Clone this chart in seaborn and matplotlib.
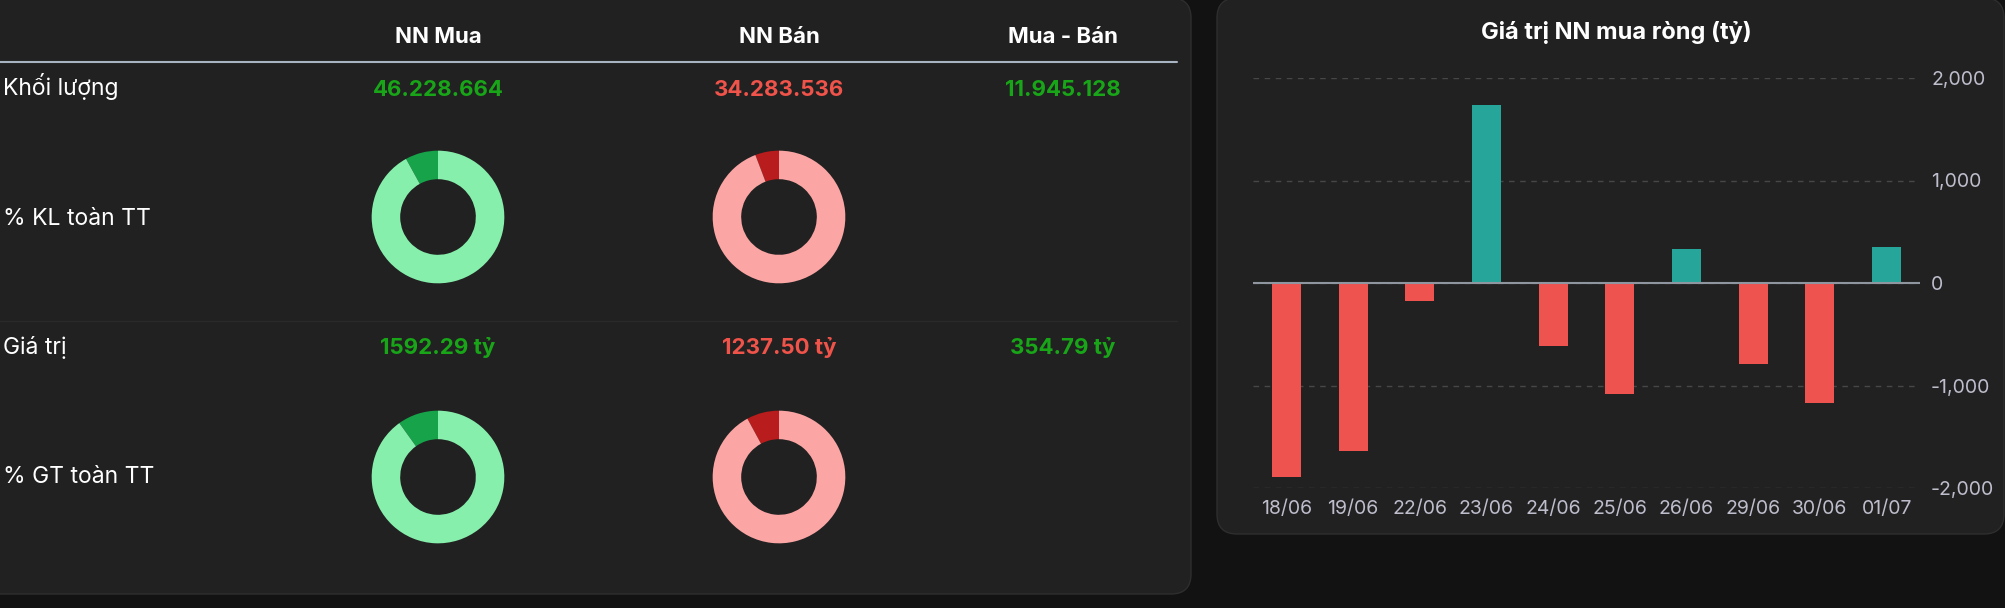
import numpy as np
import pandas as pd
import matplotlib
matplotlib.use("Agg")
import matplotlib.pyplot as plt
import seaborn as sns
from matplotlib.patches import FancyBboxPatch

# ----------------------------------------------------
# Data
# ----------------------------------------------------

dates = ["18/06", "19/06", "22/06", "23/06", "24/06",
         "25/06", "26/06", "29/06", "30/06", "01/07"]
net_values = [-1894, -1636, -178, 1739, -614, -1080, 330, -795, -1174, 354.79]

y_ticks = [-2000, -1000, 0, 1000, 2000]
y_tick_labels = ["-2,000", "-1,000", "0", "1,000", "2,000"]

col_headers = ["NN Mua", "NN Bán", "Mua - Bán"]
row_labels = ["Khối lượng", "% KL toàn TT", "Giá trị", "% GT toàn TT"]
volume_text = ["46.228.664", "34.283.536", "11.945.128"]
value_text = ["1592.29 tỷ", "1237.50 tỷ", "354.79 tỷ"]

# share of whole market (%): [NN Mua, NN Bán]
kl_share = [8.0, 5.8]
gt_share = [9.9, 7.9]

# ----------------------------------------------------
# Colours
# ----------------------------------------------------

BG = "#121212"
PANEL = "#212121"
GREEN_TXT = "#18a618"
RED_TXT = "#f0534a"
TEAL = "#26a69a"
RED_BAR = "#ef5350"
TICK = "#bdbdcc"
donut_buy = ["#16a34a", "#86efac"]
donut_sell = ["#b91c1c", "#fca5a5"]
value_colors = [GREEN_TXT, RED_TXT, GREEN_TXT]

sns.set_style("dark")
plt.rcParams["font.family"] = ["Inter", "DejaVu Sans"]

W, H = 2006, 608
fig = plt.figure(figsize=(W / 100, H / 100), dpi=100)
fig.patch.set_facecolor(BG)

# background axes in pixel coordinates
bg = fig.add_axes([0, 0, 1, 1])
bg.set_xlim(0, W)
bg.set_ylim(H, 0)
bg.axis("off")

for x0, y0, x1, y1 in [(-30, -2, 1191, 594), (1217, -2, 2004, 534)]:
    bg.add_patch(FancyBboxPatch(
        (x0, y0), x1 - x0, y1 - y0,
        boxstyle="round,pad=0,rounding_size=20",
        facecolor=PANEL, edgecolor="#2e2e2e", linewidth=1
    ))

# ----------------------------------------------------
# Left table
# ----------------------------------------------------

col_x = [438, 779, 1063]

for x, t in zip(col_x, col_headers):
    bg.text(x, 43, t, ha="center", va="baseline", fontsize=16,
            weight="bold", color="white")

bg.plot([0, 1177], [62, 62], color="#a9b4c2", lw=1.5)
bg.plot([0, 1177], [321, 321], color="#2a2a2a", lw=1)

for y, t in zip([95, 225, 354, 483], row_labels):
    bg.text(3, y, t, ha="left", va="baseline", fontsize=16.5, color="white")

for x, t, c in zip(col_x, volume_text, value_colors):
    bg.text(x, 96, t, ha="center", va="baseline", fontsize=16,
            weight="bold", color=c)

for x, t, c in zip(col_x, value_text, value_colors):
    bg.text(x, 354, t, ha="center", va="baseline", fontsize=16,
            weight="bold", color=c)


def donut(cx, cy, share, colors):
    r = 67
    ax = fig.add_axes([(cx - r) / W, 1 - (cy + r) / H, 2 * r / W, 2 * r / H])
    ax.pie([share, 100 - share], colors=colors, startangle=90,
           counterclock=True, radius=1,
           wedgeprops=dict(width=0.43, linewidth=0))
    ax.set_xlim(-1.01, 1.01)
    ax.set_ylim(-1.01, 1.01)
    ax.axis("off")


donut(438, 217, kl_share[0], donut_buy)
donut(779, 217, kl_share[1], donut_sell)
donut(438, 477, gt_share[0], donut_buy)
donut(779, 477, gt_share[1], donut_sell)

# ----------------------------------------------------
# Right bar chart
# ----------------------------------------------------

bg.text(1616, 39, "Giá trị NN mua ròng (tỷ)", ha="center", va="baseline",
        fontsize=17, weight="bold", color="white")

df = pd.DataFrame({"date": dates, "net": net_values})
df["side"] = np.where(df["net"] >= 0, "mua", "ban")

ax = fig.add_axes([1253 / W, 1 - 488 / H, (1920 - 1253) / W, (488 - 78) / H])
ax.set_facecolor("none")

sns.barplot(
    data=df, x="date", y="net", hue="side",
    palette={"mua": TEAL, "ban": RED_BAR},
    dodge=False, width=0.435, saturation=1,
    linewidth=0, legend=False, ax=ax
)

ax.set_xlim(-0.5, 9.5)
ax.set_ylim(-2000, 2000)
ax.set_axisbelow(True)
ax.xaxis.grid(False)
ax.yaxis.grid(True, linestyle=(0, (4, 4)), color="#474747", linewidth=1)
ax.axhline(0, color="#8f96a0", lw=1.5, zorder=3)

for s in ax.spines.values():
    s.set_visible(False)

ax.yaxis.tick_right()
ax.set_yticks(y_ticks)
ax.set_yticklabels(y_tick_labels)
ax.tick_params(axis="y", length=0, pad=8, labelsize=14, labelcolor=TICK)
ax.tick_params(axis="x", length=0, pad=9, labelsize=14, labelcolor=TICK)
ax.set_xlabel("")
ax.set_ylabel("")

fig.savefig("out.png", dpi=100, facecolor=fig.get_facecolor())
